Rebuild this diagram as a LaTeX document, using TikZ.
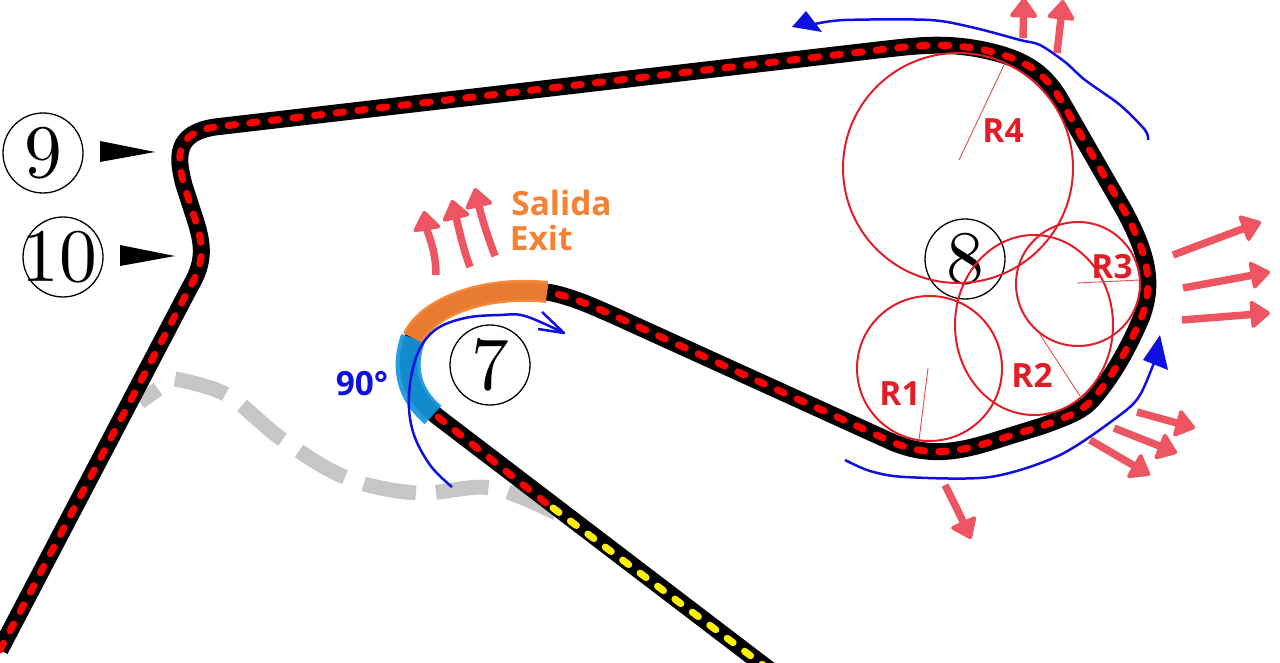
\documentclass[tikz,border=0pt]{standalone}
\usepackage{fontspec}
\setsansfont{Open Sans}
\newfontfamily\numfont[Extension=.otf]{lmroman10-regular}
\usetikzlibrary{arrows.meta, positioning}
\definecolor{trackred}{RGB}{255,0,0}
\definecolor{trackyellow}{RGB}{255,240,0}
\definecolor{exitorange}{RGB}{245,130,50}
\definecolor{apexblue}{RGB}{20,150,220}
\definecolor{linered}{RGB}{225,30,40}
\definecolor{pushred}{RGB}{238,85,98}
\definecolor{pathblue}{RGB}{15,15,225}
\definecolor{oldgrey}{RGB}{198,198,198}

\newcommand{\outerpath}{(0,650) -- (190,287) .. controls (205,262) and (203,245) .. (196,222) -- (184,185) .. controls (176,155) and (176,133) .. (215,127) -- (878,50) .. controls (915,46) and (950,40) .. (1000,54) .. controls (1030,63) and (1045,75) .. (1059,97) -- (1125,212) .. controls (1145,250) and (1155,280) .. (1142,316) .. controls (1130,345) and (1115,372) .. (1098,393) .. controls (1085,410) and (1075,414) .. (1042,426) -- (1000,439) .. controls (960,452) and (930,458) .. (892,442) -- (617,317) .. controls (590,305) and (570,296) .. (547,292)}

\begin{document}
\begin{tikzpicture}[
    x=0.02cm, y=-0.02cm,
    track/.style={line width=0.34cm, black, line join=round},
    dashes/.style={line width=0.14cm, line cap=round, line join=round, dash pattern=on 0.15cm off 0.285cm},
    numbered/.style={circle, draw, line width=0.026cm, minimum size=1.6cm, inner sep=0pt, font=\numfont\fontsize{43}{43}\selectfont},
    radcircle/.style={draw=linered, line width=0.04cm},
    radline/.style={draw=linered!80, line width=0.018cm},
    reddash/.style={font=\sffamily\bfseries\fontsize{19}{19}\selectfont, text=linered, inner sep=0pt},
    pushout/.style={-{Triangle[length=0.42cm, width=0.6cm, line width=0.08cm, round]}, pushred, line width=0.15cm},
    drive/.style={pathblue, line width=0.05cm, line join=round}
]
\useasboundingbox (0,0) rectangle (1280,662);

% old layout under the track
\draw[oldgrey, line width=0.3cm] (140,402) -- (158,389);
\draw[oldgrey, line width=0.3cm, dash pattern=on 1.06cm off 0.4cm]
    plot[smooth, tension=.6] coordinates {(175,379) (227,395) (283,440) (347,478) (417,493) (492,488) (560,515)};

% track
\draw[track] \outerpath;
\draw[track] (547,292) .. controls (480,285) and (425,310) .. (413,338) .. controls (402,370) and (410,395) .. (438,417) -- (775,674);
\draw[dashes, trackred] \outerpath;
\draw[dashes, trackred] (438,417) -- (546,503);
\draw[dashes, trackyellow] (553,508) -- (775,674);

% corner 7 colours
\draw[apexblue, line width=0.5cm, opacity=.93] (413,338) .. controls (402,370) and (410,395) .. (433,415);
\draw[exitorange, line width=0.44cm, opacity=.95] (413,338) .. controls (425,310) and (480,285) .. (547,292);

% numbers
\node[numbered] (nine) at (43,153) {9};
\node[numbered] (ten) at (63,257) {\makebox[0pt]{\kern-4pt 10}};
\node[numbered] (seven) at (490,365) {7};
\node[numbered] (eight) at (965,259) {8};
\fill (100,141) -- (155,152) -- (100,162) -- cycle;
\fill (120,245) -- (175,256) -- (120,266) -- cycle;

% radii
\draw[radcircle] (958,168) circle [radius=115];
\draw[radcircle] (1078,284) circle [radius=62];
\draw[radcircle] (1034,325) ellipse [x radius=79, y radius=90];
\draw[radcircle] (929.5,368.5) circle [radius=72.5];
\draw[radline] (959,160) -- (1004,65);
\draw[radline] (1077,283) -- (1140,280);
\draw[radline] (1039,333) -- (1080,396);
\draw[radline] (928,368) -- (919,440);
\node[reddash] (rfour) at (1003,131) {R4};
\node[reddash] (rthree) at (1112,267) {R3};
\node[reddash] (rtwo) at (1032,375) {R2};
\node[reddash] (rone) at (900,394) {R1};

% texts
\node[reddash, text=exitorange, anchor=west] (salida) at (511,203) {Salida};
\node[reddash, text=exitorange, below=0.18cm of salida.south west, anchor=north west, xshift=-0.03cm] (exit) {Exit};
\node[reddash, text=pathblue] (ninety) at (362,384) {90°};

% drive lines
\draw[drive] plot[smooth, tension=.6] coordinates {(452,487) (430,465) (413,432) (409,395) (417,355) (435,330) (465,318) (500,315) (525,316) (564,333)};
\draw[drive] (542,312) -- (564,333) -- (538,329);
\draw[drive] plot[smooth, tension=.5] coordinates {(845,460) (870,471) (905,477) (990,477) (1060,455) (1120,415) (1140,395) (1155,360)};
\fill[pathblue] (1160,335) -- (1143,360) -- (1168,370) -- cycle;
\draw[drive] plot[smooth, tension=.5] coordinates {(1148,140) (1145,130) (1120,105) (1085,80) (1065,62) (1040,45) (1020,40) (975,28) (930,20) (845,20) (815,24)};
\fill[pathblue] (792,27) -- (806,11) -- (822,32) -- cycle;

% push arrows
\draw[pushout] (436,275) .. controls (436,250) and (428,235) .. (424,211);
\draw[pushout] (470,267) .. controls (462,245) and (458,225) .. (452,200);
\draw[pushout] (495,256) .. controls (487,235) and (481,215) .. (475,188);
\draw[pushout] (1023,38) -- (1024,-2);
\draw[pushout] (1057,53) -- (1063,0);
\draw[pushout] (1173,255) -- (1261,222);
\draw[pushout] (1183,288) -- (1270,272);
\draw[pushout] (1182,320) -- (1270,313);
\draw[pushout] (1137,412) -- (1195,428);
\draw[pushout] (1114,428) -- (1177,453);
\draw[pushout] (1090,440) -- (1150,475);
\draw[pushout] (945,485) .. controls (955,505) and (960,515) .. (971,539);

\end{tikzpicture}
\end{document}
